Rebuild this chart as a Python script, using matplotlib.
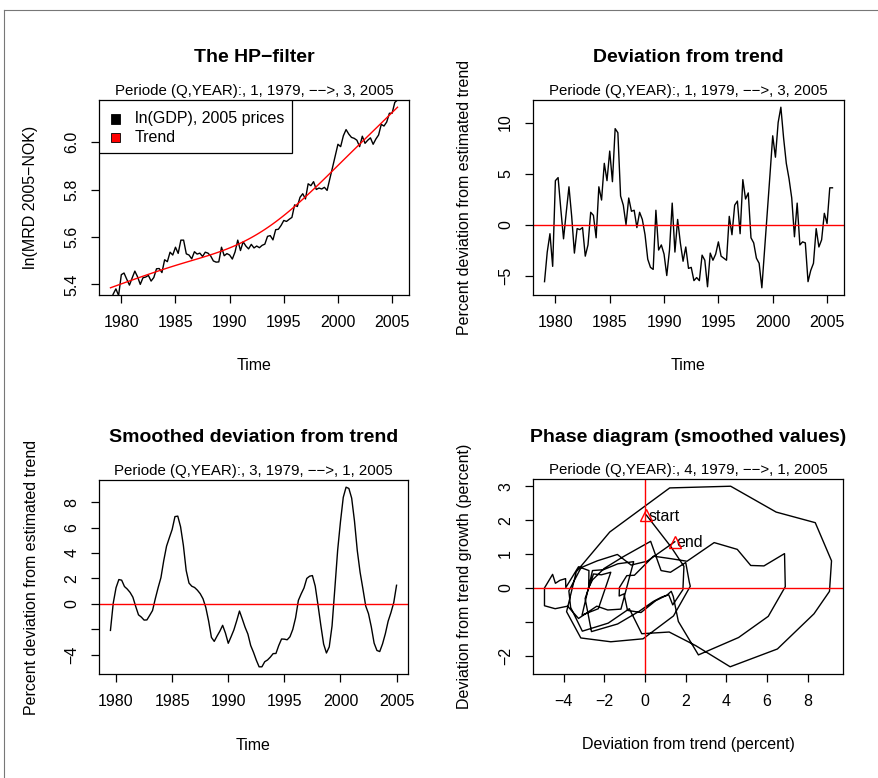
import matplotlib
matplotlib.use('Agg')
import matplotlib.pyplot as plt
import numpy as np
from matplotlib.patches import Rectangle
from matplotlib.lines import Line2D

plt.rcParams.update({
    'font.family': ['Liberation Sans', 'DejaVu Sans'],
    'font.size': 11.5,
    'axes.linewidth': 0.9,
    'xtick.direction': 'out',
    'ytick.direction': 'out',
    'xtick.major.size': 5.8,
    'ytick.major.size': 5.8,
    'xtick.major.width': 0.9,
    'ytick.major.width': 0.9,
    'xtick.major.pad': 8.5,
    'ytick.major.pad': 8.5,
    'figure.facecolor': 'white',
})

# quarterly data, 1979Q1 - 2005Q3
START_YEAR = 1979
ln_gdp = [
    5.326, 5.359, 5.381, 5.353,   # 1979
    5.441, 5.448, 5.422, 5.397,   # 1980
    5.427, 5.456, 5.432, 5.400,   # 1981
    5.428, 5.431, 5.438, 5.414,   # 1982
    5.429, 5.466, 5.467, 5.450,   # 1983
    5.504, 5.496, 5.536, 5.524,   # 1984
    5.557, 5.531, 5.587, 5.587,   # 1985
    5.529, 5.524, 5.508, 5.538,   # 1986
    5.528, 5.532, 5.518, 5.536,   # 1987
    5.532, 5.520, 5.499, 5.494,   # 1988
    5.495, 5.557, 5.521, 5.530,   # 1989
    5.524, 5.507, 5.537, 5.587,   # 1990
    5.543, 5.580, 5.562, 5.550,   # 1991
    5.569, 5.554, 5.562, 5.555,   # 1992
    5.565, 5.570, 5.603, 5.606,   # 1993
    5.588, 5.631, 5.633, 5.649,   # 1994
    5.670, 5.666, 5.675, 5.683,   # 1995
    5.736, 5.729, 5.768, 5.783,   # 1996
    5.761, 5.825, 5.817, 5.834,   # 1997
    5.801, 5.807, 5.803, 5.810,   # 1998
    5.797, 5.846, 5.894, 5.943,   # 1999
    5.992, 5.982, 6.028, 6.054,   # 2000
    6.035, 6.021, 6.017, 6.009,   # 2001
    5.982, 6.026, 5.996, 6.009,   # 2002
    6.019, 5.992, 6.014, 6.031,   # 2003
    6.076, 6.069, 6.086, 6.123,   # 2004
    6.123, 6.169, 6.179,          # 2005
]

dev_pct = [
    -5.6, -2.7, -0.9, -4.1,   # 1979
    4.3, 4.6, 1.5, -1.4,      # 1980
    1.2, 3.7, 0.8, -2.8,      # 1981
    -0.4, -0.5, -0.3, -3.1,   # 1982
    -2.0, 1.2, 0.9, -1.3,     # 1983
    3.7, 2.4, 6.0, 4.3,       # 1984
    7.2, 4.2, 9.4, 9.0,       # 1985
    2.8, 1.9, 0.0, 2.6,       # 1986
    1.3, 1.4, -0.3, 1.2,      # 1987
    0.5, -1.0, -3.4, -4.2,    # 1988
    -4.4, 1.4, -2.5, -2.0,    # 1989
    -2.9, -5.0, -2.5, 2.1,    # 1990
    -2.7, 0.5, -1.8, -3.6,    # 1991
    -2.2, -4.3, -4.2, -5.5,   # 1992
    -5.2, -5.5, -3.0, -3.5,   # 1993
    -6.1, -2.8, -3.5, -2.9,   # 1994
    -1.7, -3.1, -3.3, -3.5,   # 1995
    0.8, -1.0, 1.9, 2.3,      # 1996
    -0.9, 4.4, 2.5, 3.1,      # 1997
    -1.3, -1.8, -3.3, -3.8,   # 1998
    -6.2, -2.5, 1.2, 4.9,     # 1999
    8.7, 6.6, 10.0, 11.5,     # 2000
    8.5, 6.0, 4.5, 2.6,       # 2001
    -1.2, 2.1, -2.0, -1.7,    # 2002
    -1.8, -5.6, -4.5, -3.8,   # 2003
    -0.4, -2.2, -1.5, 1.1,    # 2004
    0.1, 3.6, 3.6,            # 2005
]

SUB_FULL = 'Periode (Q,YEAR):, 1, 1979, \u2212\u2212>, 3, 2005'
SUB_SMOOTH = 'Periode (Q,YEAR):, 3, 1979, \u2212\u2212>, 1, 2005'
SUB_PHASE = 'Periode (Q,YEAR):, 4, 1979, \u2212\u2212>, 1, 2005'

W, H = 879, 778


def hp_filter(y, lam):
    n = len(y)
    d = np.diff(np.eye(n), 2, axis=0)
    return np.linalg.solve(np.eye(n) + lam * d.T @ d, y)


def r_lim(v):
    lo, hi = np.min(v), np.max(v)
    pad = 0.04 * (hi - lo)
    return lo - pad, hi + pad


def make_axes(fig, x0, y0, x1, y1):
    # pixel box (top-left origin) -> figure fraction
    return fig.add_axes([x0 / W, 1 - y1 / H, (x1 - x0) / W, (y1 - y0) / H])


def decorate(ax, title, sub, xlabel, ylabel, hpx):
    ax.text(0.5, 1 + 42 / hpx, title, transform=ax.transAxes, ha='center',
            va='center', fontsize=14, fontweight='bold')
    ax.text(0.5, 1 + 9 / hpx, sub, transform=ax.transAxes, ha='center',
            va='center', fontsize=10.8)
    ax.set_xlabel(xlabel, va='center')
    ax.xaxis.set_label_coords(0.5, -71 / hpx)
    ax.set_ylabel(ylabel, va='center')
    ax.yaxis.set_label_coords(-68 / 310, 0.5)
    for lab in ax.get_yticklabels():
        lab.set_rotation(90)
        lab.set_va('center')


ln_gdp = np.array(ln_gdp)
dev = np.array(dev_pct)
t = START_YEAR + np.arange(len(ln_gdp)) / 4
trend = hp_filter(ln_gdp, 40000)

smooth = np.convolve(dev, np.array([1, 2, 2, 2, 1]) / 8, mode='valid')
t_s = t[2:-2]
phase_x = smooth[1:]
phase_y = np.diff(smooth)

fig = plt.figure(figsize=(W / 100, H / 100), dpi=100)

# frame
fig.add_artist(Line2D([4.5 / W, 4.5 / W], [0, 1 - 10 / H], color='#777777', lw=0.8))
fig.add_artist(Line2D([4.5 / W, 1], [1 - 10 / H, 1 - 10 / H], color='#777777', lw=0.8))

years = [1980, 1985, 1990, 1995, 2000, 2005]

# 1: HP filter
ax1 = make_axes(fig, 99, 100, 409, 295)
ax1.plot(t, ln_gdp, color='black', lw=1.0)
ax1.plot(t, trend, color='red', lw=1.0)
ax1.set_xlim(r_lim(t))
ax1.set_ylim(r_lim(trend))
ax1.set_xticks(years)
ax1.set_yticks([5.4, 5.6, 5.8, 6.0])
ax1.set_yticklabels(['5.4', '5.6', '5.8', '6.0'])
decorate(ax1, 'The HP\u2212filter', SUB_FULL, 'Time', 'ln(MRD 2005\u2212NOK)', 195)
ax1.add_patch(Rectangle((0, 1 - 53 / 195), 193 / 310, 53 / 195, transform=ax1.transAxes,
                        facecolor='white', edgecolor='black', lw=0.9, zorder=5))
for k, (lab, col) in enumerate([('ln(GDP), 2005 prices', 'black'), ('Trend', 'red')]):
    yc = 1 - (19 + 18 * k) / 195
    ax1.add_patch(Rectangle((12.5 / 310, yc - 4.5 / 195), 9 / 310, 9 / 195,
                            transform=ax1.transAxes, facecolor=col,
                            edgecolor='black', lw=0.6, zorder=6))
    ax1.text(36 / 310, yc, lab, transform=ax1.transAxes, ha='left', va='center',
             fontsize=11.5, zorder=6)

# 2: deviation from trend
ax2 = make_axes(fig, 533, 100, 844, 295)
ax2.plot(t, dev, color='black', lw=1.0)
ax2.axhline(0, color='red', lw=1.0)
ax2.set_xlim(r_lim(t))
ax2.set_ylim(r_lim(dev))
ax2.set_xticks(years)
ax2.set_yticks([-5, 0, 5, 10])
decorate(ax2, 'Deviation from trend', SUB_FULL, 'Time',
         'Percent deviation from estimated trend', 195)

# 3: smoothed deviation
ax3 = make_axes(fig, 99, 480, 408, 674)
ax3.plot(t_s, smooth, color='black', lw=1.0)
ax3.axhline(0, color='red', lw=1.0)
ax3.set_xlim(r_lim(t_s))
ax3.set_ylim(r_lim(smooth))
ax3.set_xticks(years)
ax3.set_yticks([-4, -2, 0, 2, 4, 6, 8])
ax3.set_yticklabels(['\u22124', '', '0', '2', '4', '6', '8'])
decorate(ax3, 'Smoothed deviation from trend', SUB_SMOOTH, 'Time',
         'Percent deviation from estimated trend', 194)

# 4: phase diagram
ax4 = make_axes(fig, 533, 479, 843, 674)
ax4.plot(phase_x, phase_y, color='black', lw=1.0)
ax4.axhline(0, color='red', lw=1.0)
ax4.axvline(0, color='red', lw=1.0)
for idx, lab in [(0, 'start'), (-1, 'end')]:
    ax4.plot(phase_x[idx], phase_y[idx], marker='^', ms=8, mfc='none',
             mec='red', mew=1.0, zorder=4)
    ax4.annotate(lab, (phase_x[idx], phase_y[idx]), xytext=(2, -1),
                 textcoords='offset pixels', ha='left', va='center', fontsize=11.5)
ax4.set_xlim(r_lim(phase_x))
ax4.set_ylim(r_lim(phase_y))
ax4.set_xticks([-4, -2, 0, 2, 4, 6, 8])
ax4.set_yticks([-2, -1, 0, 1, 2, 3])
ax4.set_yticklabels(['\u22122', '', '0', '1', '2', '3'])
decorate(ax4, 'Phase diagram (smoothed values)', SUB_PHASE,
         'Deviation from trend (percent)', 'Deviation from trend growth (percent)', 195)

fig.savefig('out.png', dpi=100)
